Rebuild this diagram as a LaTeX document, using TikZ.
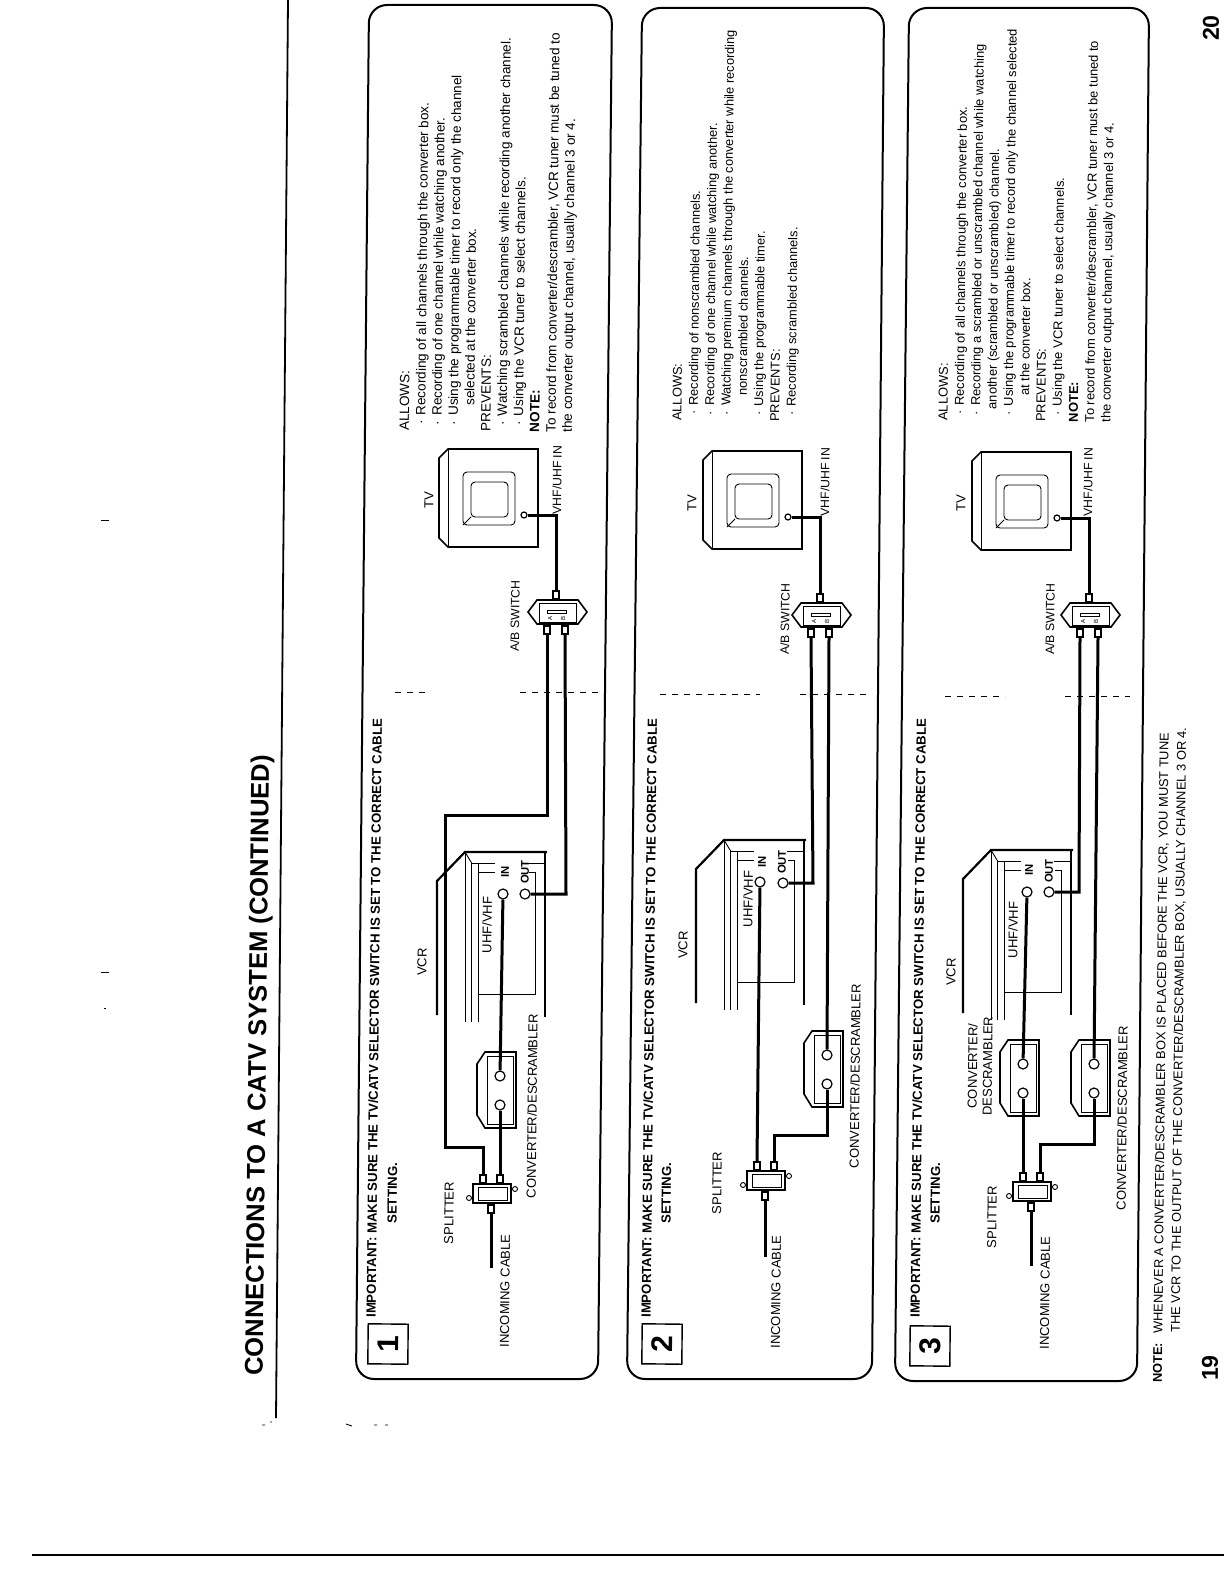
\documentclass[tikz,border=0pt]{standalone}
\usepackage{fontspec}
\setmainfont{Liberation Sans}

% parts that come back in each panel
\newcommand{\vcrbody}[2]{
    \begin{scope}[shift={(#1,#2)}]
        \draw[casing] (0,163)--(0,29)--(28,0)--(110,0);
        \draw[casing] (108,0)--(108,165);
        \draw[wire] (28,0)--(28,170);
        \draw[wire] (28,0)--(34,10);
        \draw[wire] (34,10)--(34,170);
        \draw[wire] (41,11)--(41,170);
        \draw[wire] (34,11)--(58,11);
        \draw[wire] (41,20)--(58,20);
        \draw[wire] (41,142)--(98,142)--(98,20)--(92,20);
        \draw[wire] (91,11)--(109,11);
    \end{scope}
}
\newcommand{\convbox}[3]{
    \begin{scope}[shift={(#2,#3)}]
        \draw[shell] (8,0)--(39,0)--(39,76)--(8,76)--(0,63)--(0,12)--cycle;
        \draw[wire] (10,4) rectangle (36,72);
        \node[port] (#1a) at (23,24) {};
        \node[port] (#1b) at (23,53) {};
    \end{scope}
}
\newcommand{\splitbox}[3]{
    \begin{scope}[shift={(#2,#3)}]
        \draw[shell] (0,0) rectangle (38,19);
        \draw[wire] (5,3) rectangle (34,16);
        \draw[wire] (-4,14) circle (2.5);
        \draw[wire] (42,5) circle (2.5);
        \node[stub] (#1a) at (10,-5) {};
        \node[stub] (#1b) at (27,-5) {};
        \node[stub] (#1c) at (18,25) {};
    \end{scope}
}
\newcommand{\abbox}[3]{
    \begin{scope}[shift={(#2,#3)}]
        \draw[shell] (-9,12)--(0,0)--(41,0)--(50,12)--(41,24)--(0,24)--cycle;
        \draw[wire] (2,3) rectangle (39,22);
        \draw[wire] (10,10) rectangle (29,13);
        \node[tiny label] at (13,18) {A};
        \node[tiny label] at (26,18) {B};
        \node[stub] (#1t) at (19,-5) {};
        \node[stub] (#1a) at (10,30) {};
        \node[stub] (#1b) at (28,30) {};
    \end{scope}
}
\newcommand{\tvbox}[3]{
    \begin{scope}[shift={(#2,#3)}]
        \draw[shell] (9,0)--(99,0)--(99,98)--(9,98)--(0,89)--(0,9)--cycle;
        \draw[wire] (9,0)--(9,98);
        \draw[wire,rounded corners=2] (24,23) rectangle (76,76);
        \draw[wire,rounded corners=2] (32,33) rectangle (69,68);
        \draw[wire] (24,76)--(32,68);
        \node[port,minimum size=3pt] (#1p) at (85,66) {};
    \end{scope}
}
\newcommand{\bul}{\hspace*{3pt}·\hspace{2.5pt}}

\begin{document}
\begin{tikzpicture}[
        x=0.5pt,
        y=-0.5pt,
        panel/.style={line width=1pt, rounded corners=9pt},
        casing/.style={line width=1.1pt},
        shell/.style={line width=.8pt},
        wire/.style={line width=.45pt},
        cable/.style={line width=1.5pt},
        speck/.style={line width=.3pt, dash pattern=on 3pt off 3pt},
        port/.style={circle, draw, line width=.6pt, fill=white, inner sep=0pt, minimum size=5pt},
        stub/.style={rectangle, draw, line width=.9pt, fill=white, inner sep=0pt, minimum width=3.2pt, minimum height=4.2pt},
        numbox/.style={rectangle, draw, line width=.7pt, rotate=89.4, minimum width=20pt, minimum height=20pt, inner sep=0pt, font=\fontsize{15}{15}\selectfont\bfseries},
        lab/.style={rotate=89.4, inner sep=0pt, font=\fontsize{6.5}{7.5}\selectfont},
        small lab/.style={lab, font=\fontsize{6.1}{7}\selectfont},
        port lab/.style={lab, font=\fontsize{5.6}{7}\selectfont\bfseries},
        bold lab/.style={lab, anchor=west, font=\fontsize{6.6}{7}\selectfont\bfseries},
        foot/.style={lab, anchor=west, font=\fontsize{6.4}{7}\selectfont},
        tiny label/.style={rotate=89.4, inner sep=0pt, font=\fontsize{3}{3}\selectfont},
        block/.style={rotate=89.4, anchor=north west, inner sep=0pt, align=left}]

    \path[use as bounding box] (0,0) rectangle (1224,1584);

    % PAGE
    \node[lab, anchor=west, font=\fontsize{12.8}{14}\selectfont\bfseries] (title) at (256,1376) {CONNECTIONS TO A CATV SYSTEM (CONTINUED)};
    \draw[line width=.9pt] (288,0)--(276,1418);
    \draw[line width=.6pt] (32,1555)--(1224,1555);
    \node[lab, font=\fontsize{11.5}{12}\selectfont\bfseries] (page19) at (1210,1368) {19};
    \node[lab, font=\fontsize{11.5}{12}\selectfont\bfseries] (page20) at (1211,28) {20};
    \node[foot] (foot1) at (1158,1383) {\makebox[24.5pt][l]{\textbf{NOTE:}}WHENEVER A CONVERTER/DESCRAMBLER BOX IS PLACED BEFORE THE VCR, YOU MUST TUNE};
    \node[foot] (foot2) at (1176,1333) {THE VCR TO THE OUTPUT OF THE CONVERTER/DESCRAMBLER BOX, USUALLY CHANNEL 3 OR 4.};

    % specks of the scan
    \draw[speck] (395,692)--(425,692) (520,692)--(600,692);
    \draw[speck] (660,694)--(760,694) (800,694)--(870,694);
    \draw[speck] (945,696)--(1005,696) (1065,696)--(1130,696);
    \draw[wire] (101,520)--(109,520) (101,972)--(109,972) (104,1008)--(106,1008);
    \draw[wire] (262,1425)--(265,1425) (270,1422)--(272,1422) (346,1424)--(352,1426) (374,1425)--(377,1425) (385,1425)--(388,1425);

    % PANEL 1
    \draw[panel] (369,5)--(612,5)--(598,1379)--(356,1379)--cycle;
    \node[numbox] (num1) at (388,1344) {1};
    \node[bold lab] (imp1) at (371,1318) {IMPORTANT: MAKE SURE THE TV/CATV SELECTOR SWITCH IS SET TO THE CORRECT CABLE};
    \node[bold lab] (set1) at (392,1224) {SETTING.};
    % parts
    \vcrbody{437}{852}
    \convbox{cv1}{477}{1052}
    \splitbox{sp1}{473}{1184}
    \abbox{ab1}{537}{600}
    \tvbox{tv1}{439}{449}
    \node[port] (in1) at (503,894) {};
    \node[port] (out1) at (525,894) {};
    % labels
    \node[lab] (inc1) at (505,1291) {INCOMING CABLE};
    \node[lab] (spl1) at (449,1213) {SPLITTER};
    \node[lab] (cvl1) at (532,1106) {CONVERTER/DESCRAMBLER};
    \node[lab] (vcr1) at (422,962) {VCR};
    \node[lab] (uhf1) at (487,925) {UHF/VHF};
    \node[port lab] (inl1) at (505,872) {IN};
    \node[port lab] (otl1) at (525,872) {OUT};
    \node[small lab] (abl1) at (515,616) {A/B SWITCH};
    \node[small lab] (vhf1) at (557,480) {VHF/UHF IN};
    \node[lab] (tvl1) at (429,500) {TV};
    \node[block, font=\fontsize{6.75}{8.15}\selectfont] (txt1) at (399,431) {ALLOWS:\\
        \bul Recording of all channels through the converter box.\\
        \bul Recording of one channel while watching another.\\
        \bul Using the programmable timer to record only the channel\\
        \hspace*{13pt}selected at the converter box.\\
        PREVENTS:\\
        \bul Watching scrambled channels while recording another channel.\\
        \bul Using the VCR tuner to select channels.\\
        \textbf{NOTE:}\\
        To record from converter/descrambler, VCR tuner must be tuned to\\
        the converter output channel, usually channel 3 or 4.};
    % cables
    \coordinate (c1a) at (445,1147);
    \coordinate (c1b) at (547,815);
    \coordinate (c1c) at (566,894);
    \draw[cable] (sp1c.south)--(491,1268);
    \draw[cable] (sp1a.north) |- (c1a) |- (c1b) -- (ab1a.south);
    \draw[cable] (sp1b.north) -- (cv1b);
    \draw[cable] (cv1a) -- (in1);
    \draw[cable] (out1) -- (c1c) -- (ab1b.south);
    \draw[cable] (tv1p) -| (ab1t.north);

    % PANEL 2
    \draw[panel] (642,8)--(884,8)--(872,1379)--(627,1379)--cycle;
    \node[numbox] (num2) at (662,1344) {2};
    \node[bold lab] (imp2) at (646,1318) {IMPORTANT: MAKE SURE THE TV/CATV SELECTOR SWITCH IS SET TO THE CORRECT CABLE};
    \node[bold lab] (set2) at (666,1224) {SETTING.};
    % parts
    \vcrbody{696}{840}
    \convbox{cv2}{804}{1031}
    \splitbox{sp2}{747}{1171}
    \abbox{ab2}{801}{603}
    \tvbox{tv2}{703}{451}
    \node[port] (in2) at (760,882) {};
    \node[port] (out2) at (783,883) {};
    % labels
    \node[lab] (inc2) at (776,1292) {INCOMING CABLE};
    \node[lab] (spl2) at (717,1183) {SPLITTER};
    \node[lab] (cvl2) at (855,1076) {CONVERTER/DESCRAMBLER};
    \node[lab] (vcr2) at (683,945) {VCR};
    \node[lab] (uhf2) at (748,899) {UHF/VHF};
    \node[port lab] (inl2) at (762,862) {IN};
    \node[port lab] (otl2) at (782,862) {OUT};
    \node[small lab] (abl2) at (785,619) {A/B SWITCH};
    \node[small lab] (vhf2) at (825,482) {VHF/UHF IN};
    \node[lab] (tvl2) at (692,503) {TV};
    \node[block, font=\fontsize{6.4}{8.15}\selectfont] (txt2) at (672,421) {ALLOWS:\\
        \bul Recording of nonscrambled channels.\\
        \bul Recording of one channel while watching another.\\
        \bul Watching premium channels through the converter while recording\\
        \hspace*{13pt}nonscrambled channels.\\
        \bul Using the programmable timer.\\
        PREVENTS:\\
        \bul Recording scrambled channels.};
    % cables
    \coordinate (c2b) at (827,1135);
    \coordinate (c2c) at (813,883);
    \draw[cable] (sp2c.south)--(765,1257);
    \draw[cable] (sp2a.north) -- (in2);
    \draw[cable] (sp2b.north) |- (c2b) -- (cv2b);
    \draw[cable] (cv2a) -- (ab2b.south);
    \draw[cable] (out2) -- (c2c) -- (ab2a.south);
    \draw[cable] (tv2p) -| (ab2t.north);

    % PANEL 3
    \draw[panel] (909,8)--(1149,8)--(1137,1381)--(895,1381)--cycle;
    \node[numbox] (num3) at (930,1346) {3};
    \node[bold lab] (imp3) at (915,1318) {IMPORTANT: MAKE SURE THE TV/CATV SELECTOR SWITCH IS SET TO THE CORRECT CABLE};
    \node[bold lab] (set3) at (935,1224) {SETTING.};
    % parts
    \vcrbody{963}{850}
    \convbox{cv3}{1000}{1040}
    \convbox{cd3}{1071}{1040}
    \splitbox{sp3}{1013}{1182}
    \abbox{ab3}{1070}{603}
    \tvbox{tv3}{972}{452}
    \node[port] (in3) at (1027,892) {};
    \node[port] (out3) at (1049,892) {};
    % labels
    \node[lab] (inc3) at (1045,1293) {INCOMING CABLE};
    \node[lab] (spl3) at (992,1217) {SPLITTER};
    \node[lab, align=center] (cvl3) at (980,1066) {CONVERTER/\\DESCRAMBLER};
    \node[lab] (cdl3) at (1122,1118) {CONVERTER/DESCRAMBLER};
    \node[lab] (vcr3) at (951,972) {VCR};
    \node[lab] (uhf3) at (1013,930) {UHF/VHF};
    \node[port lab] (inl3) at (1029,870) {IN};
    \node[port lab] (otl3) at (1049,871) {OUT};
    \node[small lab] (abl3) at (1050,619) {A/B SWITCH};
    \node[small lab] (vhf3) at (1088,482) {VHF/UHF IN};
    \node[lab] (tvl3) at (961,503) {TV};
    \node[block, font=\fontsize{6.45}{8.15}\selectfont] (txt3) at (938,421) {ALLOWS:\\
        \bul Recording of all channels through the converter box.\\
        \bul Recording a scrambled or unscrambled channel while watching\\
        \hspace*{6pt}another (scrambled or unscrambled) channel.\\
        \bul Using the programmable timer to record only the channel selected\\
        \hspace*{13pt}at the converter box.\\
        PREVENTS:\\
        \bul Using the VCR tuner to select channels.\\
        \textbf{NOTE:}\\
        To record from converter/descrambler, VCR tuner must be tuned to\\
        the converter output channel, usually channel 3 or 4.};
    % cables
    \coordinate (c3b) at (1094,1144);
    \coordinate (c3c) at (1079,892);
    \draw[cable] (sp3c.south)--(1031,1266);
    \draw[cable] (sp3a.north) -- (cv3b);
    \draw[cable] (cv3a) -- (in3);
    \draw[cable] (sp3b.north) |- (c3b) -- (cd3b);
    \draw[cable] (cd3a) -- (ab3b.south);
    \draw[cable] (out3) -- (c3c) -- (ab3a.south);
    \draw[cable] (tv3p) -| (ab3t.north);
\end{tikzpicture}
\end{document}
